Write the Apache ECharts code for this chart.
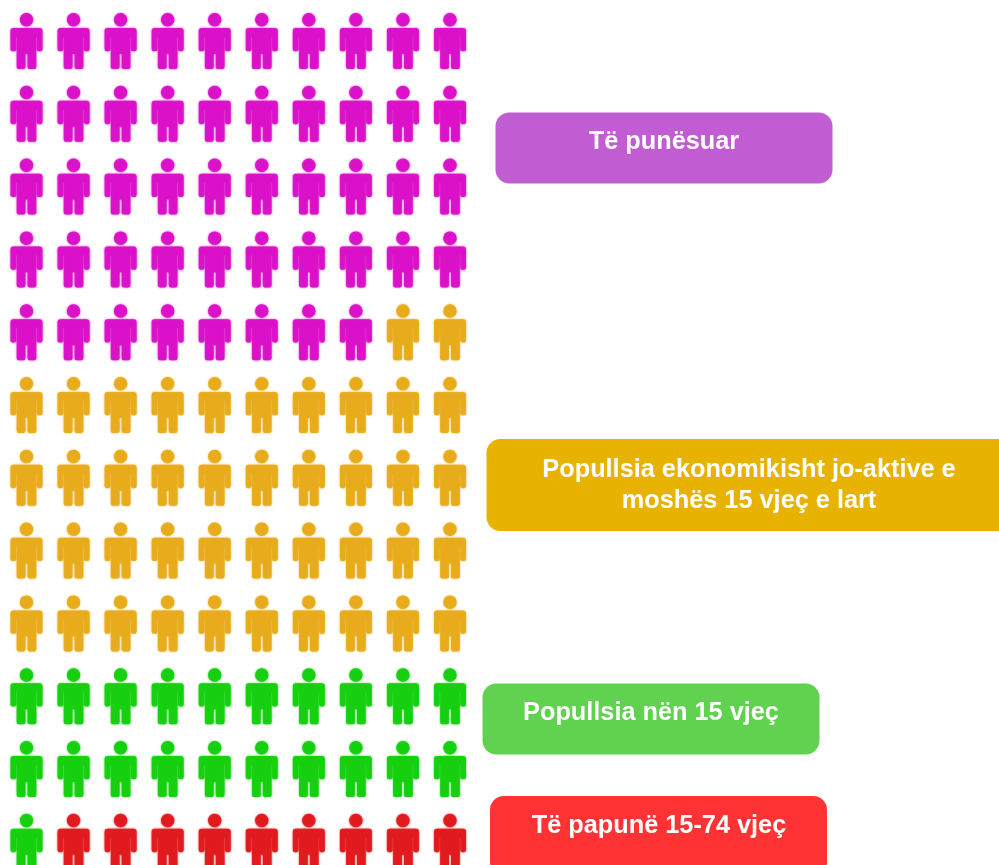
<!DOCTYPE html>
<html><head><meta charset="utf-8">
<style>html,body{margin:0;padding:0;background:#fff}#c{width:999px;height:865px}</style>
<script src="https://cdn.jsdelivr.net/npm/echarts@6/dist/echarts.min.js"></script>
</head><body><div id="c"></div>
<script>
const categories = ['Të punësuar','Popullsia ekonomikisht jo-aktive e moshës 15 vjeç e lart','Popullsia nën 15 vjeç','Të papunë 15-74 vjeç'];
const counts = [48,42,21,9];
const iconColors = ['#DA12C8','#E8AC1C','#16D010','#E21A1E'];
const boxColors = ['#C25CD2','#E8B300','#61D150','#FF3333'];
const boxLabels = ['Të punësuar','Popullsia ekonomikisht jo-aktive e\nmoshës 15 vjeç e lart','Popullsia nën 15 vjeç','Të papunë 15-74 vjeç'];
const columnsPerRow = 10, rowCount = 12;

const person = 'path://M16 0.5a6.5 6.5 0 1 1 0 13a6.5 6.5 0 1 1 0-13z'+
 'M3.5 15H28.5a3 3 0 0 1 3 3V35.5a2 2 0 0 1-2 2H28a2 2 0 0 1-2-2V23.5H25.5V52.5a2 2 0 0 1-2 2H19a2 2 0 0 1-2-2V40H15V52.5a2 2 0 0 1-2 2H8.5a2 2 0 0 1-2-2V23.5H6V35.5a2 2 0 0 1-2 2H2.5a2 2 0 0 1-2-2V18a3 3 0 0 1 3-3z';

let idx = 0;
const series = categories.map((name,i)=>{
  const data=[];
  for(let k=0;k<counts[i];k++,idx++) data.push([idx%columnsPerRow, Math.floor(idx/columnsPerRow)]);
  return {name,type:'scatter',data,symbol:person,symbolSize:[32,56],silent:true,
    itemStyle:{color:iconColors[i],opacity:0.95,shadowColor:iconColors[i],shadowBlur:2},animation:false};
});

const boxes=[[495.5,112.5,337,71],[486.5,439,530,92],[482.5,683.5,337,71],[490,796,337,80]];
const textCenter=[[664,142],[749,486],[651,713],[659,826]];
const graphic=[];
boxes.forEach((b,i)=>{
  graphic.push({type:'rect',silent:true,shape:{x:b[0],y:b[1],width:b[2],height:b[3],r:14},style:{fill:boxColors[i]}});
  graphic.push({type:'text',silent:true,x:textCenter[i][0],y:textCenter[i][1],style:{text:boxLabels[i],fill:'#fff',
    fontFamily:'Liberation Sans',fontWeight:'bold',fontSize:25.3,align:'center',verticalAlign:'middle',lineHeight:31}});
});

const chart=echarts.init(document.getElementById('c'),null,{renderer:'canvas'});
chart.setOption({
  animation:false,
  grid:{left:26.5,top:41,width:423.5,height:800.8,containLabel:false},
  xAxis:{type:'value',min:0,max:columnsPerRow-1,show:false},
  yAxis:{type:'value',min:0,max:rowCount-1,inverse:true,show:false},
  series,
  graphic:{elements:graphic}
});
</script></body></html>
